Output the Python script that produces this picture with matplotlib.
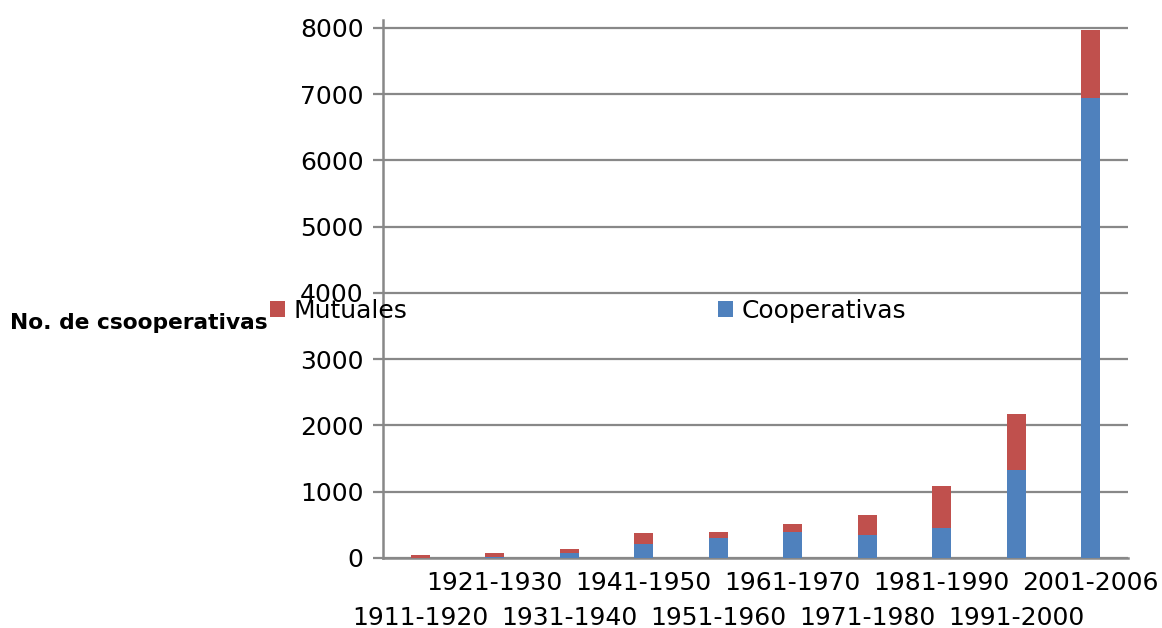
import numpy as np
import matplotlib.pyplot as plt

decadas = ['1911-1920', '1921-1930', '1931-1940', '1941-1950', '1951-1960',
           '1961-1970', '1971-1980', '1981-1990', '1991-2000', '2001-2006']
cooperativas = [5, 10, 80, 205, 305, 385, 340, 450, 1320, 6940]
mutuales = [45, 70, 60, 165, 80, 135, 315, 630, 850, 1020]

azul = '#4f81bd'
rojo = '#c0504d'
gris = '#888888'

fig = plt.figure(figsize=(11.62, 6.28), dpi=100)
ax = fig.add_axes([0.3296, 0.1115, 0.6411, 0.857])

x = np.arange(len(decadas))
ax.bar(x, cooperativas, width=0.255, color=azul, label='Cooperativas', zorder=3)
ax.bar(x, mutuales, width=0.255, bottom=cooperativas, color=rojo, label='Mutuales', zorder=3)

ax.set_xlim(-0.5, len(decadas) - 0.5)
ax.set_ylim(0, 8120)
ax.set_yticks(np.arange(0, 8001, 1000))
ax.yaxis.grid(True, color=gris, linewidth=1.6, zorder=0)
ax.tick_params(axis='y', length=7, width=1.6, color=gris, labelsize=18, pad=7)
ax.tick_params(axis='x', length=0, labelsize=18)

# etiquetas alternadas en dos filas
ax.set_xticks(x)
ax.set_xticklabels(decadas)
for i, t in enumerate(ax.xaxis.get_major_ticks()):
    t.set_pad(9.5 if i % 2 == 1 else 34.5)

for s in ['top', 'right']:
    ax.spines[s].set_visible(False)
for s in ['left', 'bottom']:
    ax.spines[s].set_color(gris)
    ax.spines[s].set_linewidth(1.8)

fig.text(0.009, 0.486, 'No. de csooperativas', fontsize=15.7, fontweight='bold',
         va='center', ha='left')

h, l = ax.get_legend_handles_labels()
fig.legend([h[1], h[0]], [l[1], l[0]], ncol=2, loc='center left',
           bbox_to_anchor=(270 / 1162, 1 - 311 / 628), frameon=False,
           fontsize=18, borderpad=0, borderaxespad=0, handlelength=0.6,
           handleheight=0.6, handletextpad=0.32, columnspacing=12.46)

fig.savefig('out.png', dpi=100)
